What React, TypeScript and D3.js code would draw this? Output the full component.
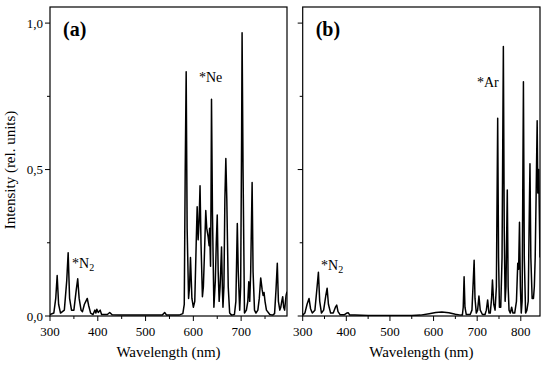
import * as d3 from 'd3';

// Panel (a): Ne spectrum
const wavelengthsA = [
  300, 308, 312, 315, 318, 322, 330, 335, 338, 341, 345, 350, 355, 358, 361, 365, 368, 372, 375, 378,
  381, 385, 390, 394, 396, 398, 401, 405, 408, 415, 420, 425, 430, 445, 480, 520, 535, 540, 544, 570,
  578, 581, 583, 585, 587, 590, 592, 594, 597, 600, 603, 606, 608, 610, 612, 614, 616, 619, 621, 623,
  626, 628, 631, 633, 634, 636, 637, 638, 640, 643, 646, 648, 650, 652, 654, 656, 659, 661, 662, 664,
  666, 668, 670, 673, 676, 680, 686, 689, 692, 694, 697, 699, 701, 702, 704, 707, 711, 714, 716, 718,
  720, 723, 725, 728, 731, 735, 738, 741, 744, 746, 748, 750, 753, 760, 766, 770, 773, 775.7, 778, 781,
  783, 785, 787, 789, 791, 794, 796,
];
const intensityA = [
  0.005, 0.01, 0.06, 0.138, 0.04, 0.01, 0.02, 0.12, 0.216, 0.06, 0.02, 0.02, 0.09, 0.127, 0.06, 0.02, 0.015, 0.04, 0.05, 0.06,
  0.035, 0.01, 0.005, 0.02, 0.01, 0.023, 0.012, 0.02, 0.005, 0.005, 0.005, 0.012, 0.004, 0.003, 0.003, 0.003, 0.003, 0.012, 0.003, 0.003,
  0.008, 0.04, 0.5, 0.834, 0.3, 0.06, 0.1, 0.2, 0.06, 0.03, 0.05, 0.25, 0.373, 0.26, 0.32, 0.445, 0.25, 0.066, 0.1, 0.2,
  0.36, 0.3, 0.27, 0.24, 0.3, 0.17, 0.4, 0.74, 0.35, 0.03, 0.12, 0.25, 0.345, 0.15, 0.05, 0.1, 0.236, 0.08, 0.03, 0.1,
  0.4, 0.538, 0.4, 0.1, 0.01, 0.003, 0.005, 0.05, 0.316, 0.15, 0.02, 0.1, 0.6, 0.967, 0.5, 0.01, 0.02, 0.05, 0.117, 0.05,
  0.15, 0.456, 0.15, 0.02, 0.01, 0.02, 0.06, 0.13, 0.09, 0.07, 0.08, 0.05, 0.02, 0.005, 0.003, 0.008, 0.09, 0.18, 0.05, 0.02,
  0.03, 0.05, 0.066, 0.03, 0.02, 0.07, 0.083,
];

// Panel (b): Ar spectrum
const wavelengthsB = [
  300, 305, 310, 314.5, 318, 322, 328, 333, 336, 339, 343, 348, 353, 356, 359, 364, 370, 375, 378, 381,
  386, 395, 401, 404.6, 408, 420, 450, 500, 550, 570, 590, 605, 619, 635, 650, 662, 666, 668, 670, 672,
  675, 684, 688, 691, 693, 695, 698, 701, 704, 707, 712, 718, 721, 724, 727, 730, 733, 735, 738, 741,
  744, 747, 749, 751, 754, 757, 760, 762, 764, 766, 769, 771, 773, 776, 779, 782, 786, 790, 793, 795,
  797, 799, 801, 803, 806, 808, 811, 814, 817, 819, 821, 823, 826, 829, 831, 833, 835, 837.5, 839, 841,
  843, 844,
];
const intensityB = [
  0.003, 0.01, 0.04, 0.06, 0.025, 0.01, 0.02, 0.1, 0.149, 0.05, 0.01, 0.02, 0.07, 0.095, 0.04, 0.01, 0.01, 0.03, 0.037, 0.015,
  0.004, 0.004, 0.01, 0.011, 0.003, 0.003, 0.002, 0.002, 0.002, 0.003, 0.008, 0.012, 0.014, 0.011, 0.006, 0.003, 0.003, 0.03, 0.134, 0.03,
  0.005, 0.005, 0.02, 0.12, 0.19, 0.06, 0.01, 0.02, 0.068, 0.02, 0.005, 0.005, 0.02, 0.055, 0.01, 0.01, 0.06, 0.123, 0.04, 0.02,
  0.1, 0.675, 0.2, 0.03, 0.03, 0.2, 0.92, 0.3, 0.05, 0.1, 0.43, 0.1, 0.02, 0.01, 0.03, 0.01, 0.01, 0.05, 0.18, 0.16,
  0.32, 0.1, 0.01, 0.05, 0.8, 0.2, 0.01, 0.02, 0.05, 0.3, 0.52, 0.2, 0.06, 0.06, 0.1, 0.2, 0.4, 0.667, 0.42, 0.5,
  0.3, 0.2,
];

const majorTicksA = [300, 400, 500, 600, 700];
const majorTicksB = [300, 400, 500, 600, 700, 800];
const yMajor = [0, 0.5, 1.0];
const yMinor = [0.25, 0.75];
const yLabels = ['0,0', '0,5', '1,0'];

const FONT = 'Liberation Serif, Times New Roman, serif';
const TOP = 7;
const BOTTOM = 316;

type PanelProps = {
  left: number;
  right: number;
  xMax: number;
  majors: number[];
  xs: number[];
  ys: number[];
  showYLabels: boolean;
  tag: string;
  gas: string;
  gasPos: [number, number];
  n2Pos: [number, number];
};

function Panel({ left, right, xMax, majors, xs, ys, showYLabels, tag, gas, gasPos, n2Pos }: PanelProps) {
  const x = d3.scaleLinear().domain([300, xMax]).range([left, right]);
  const y = d3.scaleLinear().domain([0, 1.055]).range([BOTTOM, TOP]);
  const pts = xs.map((w, i) => [w, ys[i]] as [number, number]);
  const line = d3.line<[number, number]>().x(d => x(d[0])).y(d => y(d[1]));
  const minors = d3.range(350, xMax, 100);

  return (
    <g style={{ fontFamily: FONT }}>
      <defs>
        <clipPath id={`clip-${tag}`}>
          <rect x={left} y={TOP} width={right - left} height={BOTTOM - TOP} />
        </clipPath>
      </defs>
      <path d={line(pts) ?? ''} fill="none" stroke="#000" strokeWidth={1.5}
        strokeLinejoin="round" clipPath={`url(#clip-${tag})`} />
      <rect x={left} y={TOP} width={right - left} height={BOTTOM - TOP} fill="none" stroke="#000" strokeWidth={1.2} />
      {majors.map(t => (
        <g key={t}>
          <line x1={x(t)} x2={x(t)} y1={BOTTOM} y2={BOTTOM + 5} stroke="#000" />
          <text x={x(t)} y={BOTTOM + 20} textAnchor="middle" fontSize={13}>{t}</text>
        </g>
      ))}
      {minors.map(t => (
        <line key={t} x1={x(t)} x2={x(t)} y1={BOTTOM} y2={BOTTOM + 3} stroke="#000" />
      ))}
      {yMajor.map((t, i) => (
        <g key={t}>
          <line x1={left - 5} x2={left} y1={y(t)} y2={y(t)} stroke="#000" />
          {showYLabels && (
            <text x={left - 7} y={y(t) + 4.5} textAnchor="end" fontSize={13}>{yLabels[i]}</text>
          )}
        </g>
      ))}
      {yMinor.map(t => (
        <line key={t} x1={left - 3} x2={left} y1={y(t)} y2={y(t)} stroke="#000" />
      ))}
      <text x={(left + right) / 2} y={BOTTOM + 41} textAnchor="middle" fontSize={15}>
        Wavelength (nm)
      </text>
      <text x={left + 13} y={TOP + 29} fontSize={20} fontWeight="bold">({tag})</text>
      <text x={gasPos[0]} y={gasPos[1]} fontSize={14}>*{gas}</text>
      <text x={n2Pos[0]} y={n2Pos[1]} fontSize={14}>
        *N<tspan fontSize={10} dy={3}>2</tspan>
      </text>
    </g>
  );
}

export default function App() {
  return (
    <svg width={550} height={365} style={{ position: 'absolute', left: 0, top: 0, background: '#fff' }}>
      <Panel left={50} right={287} xMax={796} majors={majorTicksA} xs={wavelengthsA} ys={intensityA}
        showYLabels tag="a" gas="Ne" gasPos={[199, 82]} n2Pos={[72, 268]} />
      <Panel left={302.7} right={540} xMax={844} majors={majorTicksB} xs={wavelengthsB} ys={intensityB}
        showYLabels={false} tag="b" gas="Ar" gasPos={[477, 87]} n2Pos={[321, 270]} />
      <text transform="translate(15,170) rotate(-90)" textAnchor="middle"
        fontSize={15} style={{ fontFamily: FONT }}>Intensity (rel. units)</text>
    </svg>
  );
}
